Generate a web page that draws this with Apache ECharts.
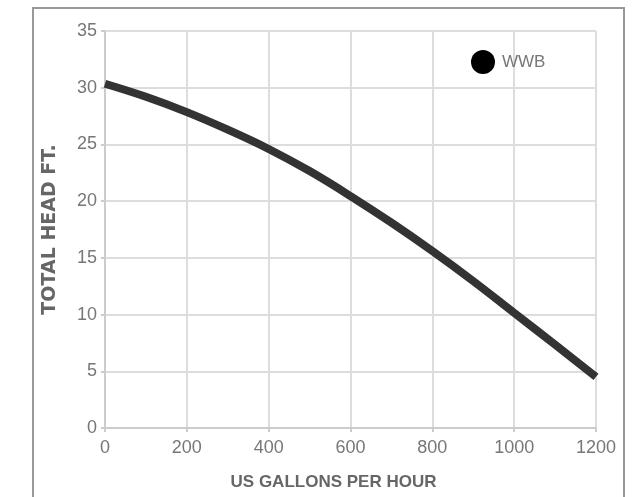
<!DOCTYPE html>
<html><head><meta charset="utf-8">
<script src="https://cdn.jsdelivr.net/npm/echarts@6/dist/echarts.min.js"></script>
<style>html,body{margin:0;padding:0;background:#fff}#c{width:633px;height:497px}</style>
</head><body><div id="c"></div>
<script>
const flow = [0, 100, 200, 300, 400, 500, 600, 700, 800, 900, 1000, 1100, 1200];
const head = [30.35, 29.2, 27.85, 26.3, 24.6, 22.65, 20.45, 18.1, 15.6, 12.95, 10.15, 7.35, 4.5];
const seriesName = 'WWB';
const xTitle = 'US GALLONS PER HOUR';
const yTitle = 'TOTAL HEAD FT.';

const font = '"Liberation Sans", sans-serif';
const chart = echarts.init(document.getElementById('c'));
chart.setOption({
  animation: false,
  graphic: [{type:'rect', shape:{x:33, y:8, width:591, height:520}, style:{fill:'none', stroke:'#999', lineWidth:2}}],
  legend: {left: 466, top: 45, itemWidth: 24, itemHeight: 24, icon: 'circle', itemGap: 6,
    textStyle:{color:'#777', fontSize:17, fontFamily:font, padding:[0,0,0,2]}, data:[{name:seriesName, itemStyle:{color:'#000'}}]},
  grid: {left:105, right:37, top:31, bottom:69, containLabel:false},
  xAxis: {type:'value', min:0, max:1200, interval:200,
    name:xTitle, nameLocation:'middle', nameGap:46,
    nameTextStyle:{color:'#666', fontSize:17, fontWeight:'bold', fontFamily:font, padding:[0,34,0,0]},
    axisLine:{show:true, lineStyle:{color:'#ccc', width:2}},
    axisTick:{show:true, length:4, lineStyle:{color:'#ccc', width:2}},
    axisLabel:{color:'#777', fontSize:18, fontFamily:font, margin:11, formatter:v=>String(v)},
    splitLine:{show:true, lineStyle:{color:'#ddd', width:2}}},
  yAxis: {type:'value', min:0, max:35, interval:5,
    name:yTitle, nameLocation:'middle', nameGap:45,
    nameTextStyle:{color:'#666', fontSize:19, fontWeight:'bold', fontFamily:'"DejaVu Sans", sans-serif'},
    axisLine:{show:true, lineStyle:{color:'#ccc', width:2}},
    axisTick:{show:true, length:4, lineStyle:{color:'#ccc', width:2}},
    axisLabel:{color:'#777', fontSize:18, fontFamily:font, margin:8, formatter:v=>String(v)},
    splitLine:{show:true, lineStyle:{color:'#ddd', width:2}}},
  series: [{name:seriesName, type:'line', smooth:0.4, showSymbol:false, symbol:'none',
    lineStyle:{color:'#333', width:8}, itemStyle:{color:'#000'},
    data: flow.map((x,i)=>[x, head[i]])}]
});
</script></body></html>
